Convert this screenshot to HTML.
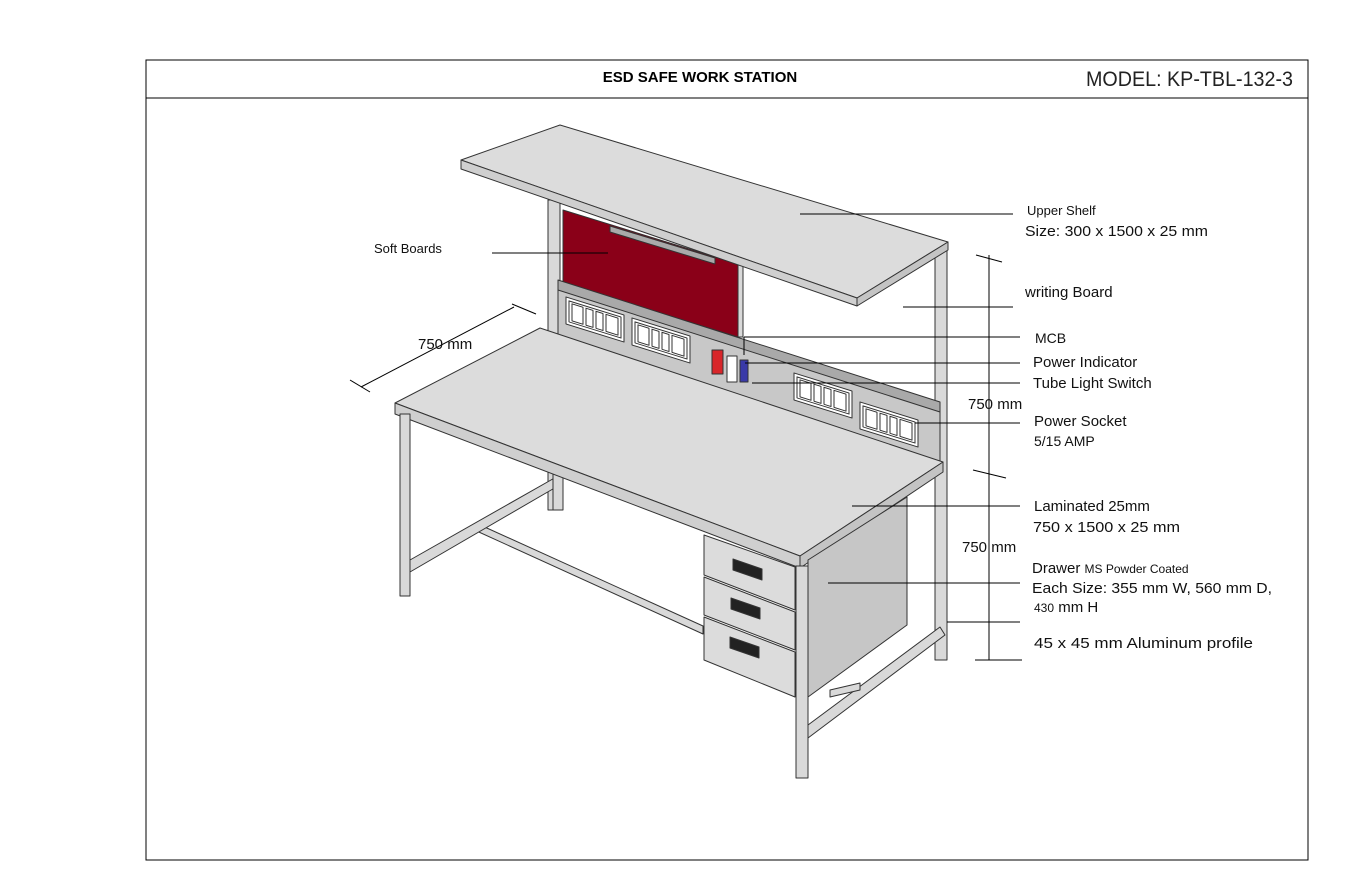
<!DOCTYPE html>
<html><head><meta charset="utf-8"><style>
html,body{margin:0;padding:0;background:#fff;}
svg{display:block;font-family:"Liberation Sans",Arial,sans-serif;}
</style></head><body>
<svg width="1360" height="884" viewBox="0 0 1360 884" xmlns="http://www.w3.org/2000/svg">
<defs>
<g id="sock" stroke="#333" stroke-width="1">
<rect x="0" y="0" width="58" height="27" fill="#fff"/>
<rect x="3" y="3" width="52" height="21" fill="#fff"/>
<rect x="6" y="5" width="11" height="17" fill="#fff"/>
<rect x="20" y="5" width="7" height="17" fill="#fff"/>
<rect x="30" y="5" width="7" height="17" fill="#fff"/>
<rect x="40" y="5" width="12" height="17" fill="#fff"/>
</g>
</defs>
<rect x="146" y="60" width="1162" height="800" fill="#fff" stroke="#000" stroke-width="1"/>
<line x1="146" y1="98" x2="1308" y2="98" stroke="#000"/>
<text x="700" y="82" font-size="15" font-weight="bold" text-anchor="middle">ESD SAFE WORK STATION</text>
<text x="1086" y="86" font-size="21" fill="#222" textLength="207" lengthAdjust="spacingAndGlyphs">MODEL: KP-TBL-132-3</text>

<g stroke="#333" stroke-width="1" stroke-linejoin="round">
<rect x="548" y="200" width="12" height="310" fill="#d9d9d9"/>
<rect x="935" y="250" width="12" height="410" fill="#d9d9d9"/>
<polygon points="563,210 738,264 738,337 563,283" fill="#8a0018"/>
<polygon points="610,226 715,258 715,264 610,232" fill="#aaa"/>
<rect x="738" y="262" width="5" height="75" fill="#d9d9d9"/>
<polygon points="558,283 940,405 940,462 558,340" fill="#c8c8c8"/>
<polygon points="558,280 940,402 940,412 558,290" fill="#a9a9a9"/>
<use href="#sock" transform="matrix(1,0.31,0,1,566,297)"/>
<use href="#sock" transform="matrix(1,0.31,0,1,632,318)"/>
<use href="#sock" transform="matrix(1,0.31,0,1,794,373)"/>
<use href="#sock" transform="matrix(1,0.31,0,1,860,402)"/>
<rect x="712" y="350" width="11" height="24" fill="#d8262a"/>
<rect x="727" y="356" width="10" height="26" fill="#fff"/>
<rect x="740" y="360" width="8" height="22" fill="#3a3aa8"/>
<polygon points="470,528 478,524 703,626 703,634" fill="#d9d9d9"/>
<polygon points="410,560 558,476 558,486 410,572" fill="#d9d9d9"/>
<rect x="553" y="470" width="10" height="40" fill="#d9d9d9"/>
<polygon points="808,725 940,627 945,635 808,738" fill="#d9d9d9"/>
<polygon points="830,690 860,683 860,690 830,697" fill="#d9d9d9"/>
<polygon points="395,403 540,328 943,462 800,556" fill="#dcdcdc"/>
<polygon points="395,403 800,556 800,568 395,414" fill="#cfcfcf"/>
<polygon points="800,556 943,462 943,472 800,568" fill="#c4c4c4"/>
<rect x="400" y="414" width="10" height="182" fill="#d9d9d9"/>
<rect x="796" y="566" width="12" height="212" fill="#d9d9d9"/>
<polygon points="808,560 907,497 907,625 808,697" fill="#c6c6c6"/>
<polygon points="704,535 795,567 795,610 704,575" fill="#dcdcdc"/>
<polygon points="704,577 795,612 795,650 704,615" fill="#dcdcdc"/>
<polygon points="704,617 795,652 795,697 704,660" fill="#dcdcdc"/>
<g fill="#222">
<polygon points="733,559 762,569 762,580 733,570"/>
<polygon points="731,598 760,608 760,619 731,609"/>
<polygon points="730,637 759,647 759,658 730,648"/>
</g>
<polygon points="461,160 560,125 948,242 857,298" fill="#dcdcdc"/>
<polygon points="461,160 857,298 857,306 461,169" fill="#cfcfcf"/>
<polygon points="857,298 948,242 948,250 857,306" fill="#c4c4c4"/>
</g>

<g stroke="#000" stroke-width="1">
<line x1="800" y1="214" x2="1013" y2="214"/>
<line x1="492" y1="253" x2="608" y2="253"/>
<line x1="903" y1="307" x2="1013" y2="307"/>
<line x1="744" y1="337" x2="1020" y2="337"/>
<line x1="744" y1="337" x2="744" y2="355"/>
<line x1="745" y1="363" x2="1020" y2="363"/>
<line x1="752" y1="383" x2="1020" y2="383"/>
<line x1="915" y1="423" x2="1020" y2="423"/>
<line x1="852" y1="506" x2="1020" y2="506"/>
<line x1="828" y1="583" x2="1020" y2="583"/>
<line x1="947" y1="622" x2="1020" y2="622"/>
<line x1="989" y1="255" x2="989" y2="660"/>
<line x1="976" y1="255" x2="1002" y2="262"/>
<line x1="973" y1="470" x2="1006" y2="478"/>
<line x1="975" y1="660" x2="1022" y2="660"/>
<line x1="361" y1="387" x2="514" y2="307"/>
<line x1="350" y1="380" x2="370" y2="392"/>
<line x1="512" y1="304" x2="536" y2="314"/>
</g>

<g font-size="15" fill="#111">
<text x="1027" y="215" font-size="13">Upper Shelf</text>
<text x="1025" y="236" textLength="183" lengthAdjust="spacingAndGlyphs">Size: 300 x 1500 x 25 mm</text>
<text x="374" y="253" font-size="13">Soft Boards</text>
<text x="1025" y="297">writing Board</text>
<text x="1035" y="343" font-size="14">MCB</text>
<text x="1033" y="367">Power Indicator</text>
<text x="1033" y="388">Tube Light Switch</text>
<text x="1034" y="426">Power Socket</text>
<text x="1034" y="446" font-size="14">5/15 AMP</text>
<text x="968" y="409">750 mm</text>
<text x="418" y="349">750 mm</text>
<text x="1034" y="511">Laminated 25mm</text>
<text x="1033" y="532" textLength="147" lengthAdjust="spacingAndGlyphs">750 x 1500 x 25 mm</text>
<text x="962" y="552">750 mm</text>
<text x="1032" y="573">Drawer <tspan font-size="12">MS Powder Coated</tspan></text>
<text x="1032" y="593" textLength="240" lengthAdjust="spacingAndGlyphs">Each Size: 355 mm W, 560 mm D,</text>
<text x="1034" y="612"><tspan font-size="12">430</tspan> mm H</text>
<text x="1034" y="648" textLength="219" lengthAdjust="spacingAndGlyphs">45 x 45 mm Aluminum profile</text>
</g>
</svg>
</body></html>
